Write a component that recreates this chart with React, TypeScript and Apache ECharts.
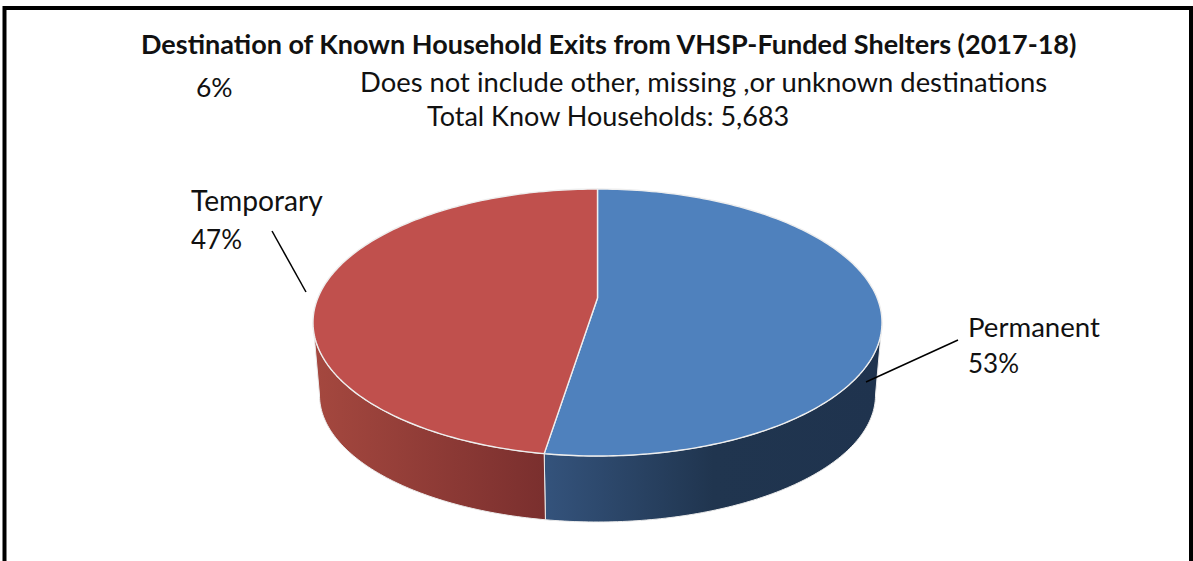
import React, { useEffect, useRef } from "react";
import * as echarts from "echarts";

const titleText = "Destination of Known Household Exits from VHSP-Funded Shelters (2017-18)";
const noteLine1 = "Does not include other, missing ,or unknown destinations";
const noteLine2 = "Total Know Households: 5,683";
const strayLabel = "6%";
const sliceNames = ["Permanent", "Temporary"];
const sliceValues = [53, 47];
const sliceColors = ["#4f81bd", "#c0504d"];

const FONT = "Lato, Carlito, Calibri, sans-serif";
const TOP = { cx: 597.5, cy: 322.5, rx: 284.5, ry: 133.5, apexY: 298 };
const LOW = { cx: 597.5, cy: 395, rx: 278, ry: 127 };

const sideGradients = [
  [[0, "#34537c"], [0.5, "#20354f"], [1, "#1f334e"]],
  [[0, "#a5483f"], [1, "#7a2f2e"]],
];

function pt(e: { cx: number; cy: number; rx: number; ry: number }, deg: number): number[] {
  const t = (deg * Math.PI) / 180;
  return [e.cx + e.rx * Math.sin(t), e.cy - e.ry * Math.cos(t)];
}

function arc(e: any, from: number, to: number): number[][] {
  const out: number[][] = [];
  const n = Math.max(2, Math.ceil(Math.abs(to - from)));
  for (let i = 0; i <= n; i++) out.push(pt(e, from + ((to - from) * i) / n));
  return out;
}

const total = sliceValues.reduce((a, b) => a + b, 0);

function renderSlice(params: any, api: any) {
  const i = params.dataIndex;
  const before = sliceValues.slice(0, i).reduce((a, b) => a + b, 0);
  const start = (before / total) * 360;
  const end = start + (api.value(0) / total) * 360;
  const children: any[] = [];
  const a = Math.max(start, 90);
  const b = Math.min(end, 270);
  if (b > a) {
    const pts = arc(TOP, a, b).concat(arc(LOW, b, a));
    children.push({
      type: "polygon",
      shape: { points: pts },
      style: {
        fill: new echarts.graphic.LinearGradient(
          0, 0, 1, 0,
          sideGradients[i].map(([offset, color]) => ({ offset: offset as number, color: color as string }))
        ),
        stroke: "#ececec",
        lineWidth: 1,
      },
    });
  }
  children.push({
    type: "polygon",
    shape: { points: [[TOP.cx, TOP.apexY], ...arc(TOP, start, end)] },
    style: { fill: sliceColors[i], stroke: "#eeeeee", lineWidth: 1.4, lineJoin: "round" },
  });
  return { type: "group", children };
}

function label(x: number, y: number, text: string, size = 27, weight = "normal") {
  return {
    type: "text",
    x,
    y,
    z: 10,
    style: { text, fill: "#111", font: `${weight} ${size}px ${FONT}`, textVerticalAlign: "middle", textBaseline: "middle" },
  };
}

function line(x1: number, y1: number, x2: number, y2: number) {
  return {
    type: "line",
    z: 10,
    shape: { x1, y1, x2, y2 },
    style: { stroke: "#000", lineWidth: 1.5 },
  };
}

export default function App() {
  const ref = useRef<HTMLDivElement>(null);
  useEffect(() => {
    document.body.style.margin = "0";
    const chart = echarts.init(ref.current!, null, { renderer: "svg" });
    chart.setOption({
      animation: false,
      backgroundColor: "#fff",
      title: {
        text: titleText,
        left: 141,
        top: 30,
        padding: 0,
        textStyle: { fontFamily: FONT, fontSize: 27, fontWeight: "bold", color: "#111" },
      },
      series: [
        {
          type: "custom",
          coordinateSystem: "none",
          renderItem: renderSlice,
          data: sliceValues.map((value, i) => ({ name: sliceNames[i], value })),
          silent: true,
        },
      ],
      graphic: [
        {
          type: "rect",
          z: 9,
          shape: { x: 4.5, y: 8, width: 1186.5, height: 600 },
          style: { fill: "none", stroke: "#000", lineWidth: 4 },
        },
        label(360, 81, noteLine1, 27.4),
        label(427, 115, noteLine2, 27),
        label(196, 87, strayLabel, 26.5),
        label(191, 200, sliceNames[1], 28.2),
        label(191, 239, `${sliceValues[1]}%`, 26),
        label(968, 326, sliceNames[0], 27.6),
        label(968, 363, `${sliceValues[0]}%`, 26),
        line(272, 231, 306, 292),
        line(866, 382, 958, 340),
      ],
    });
    return () => chart.dispose();
  }, []);
  return <div ref={ref} style={{ width: 1193, height: 561 }} />;
}
